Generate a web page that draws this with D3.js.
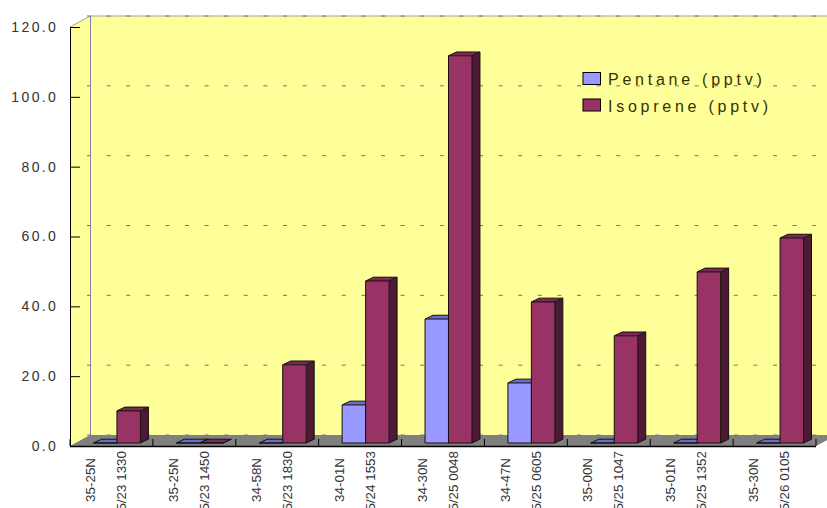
<!DOCTYPE html>
<html>
<head>
<meta charset="utf-8">
<script src="https://d3js.org/d3.v7.min.js"></script>
<style>
    html, body { margin: 0; padding: 0; background: #fff; overflow: hidden; }
    text { font-family: "Liberation Sans", Arial, sans-serif; fill: #333; }
    .yLabels text { font-size: 14px; letter-spacing: 2.4px; }
    .xLabel { font-size: 13.4px; }
    .legendText { font-size: 16px; letter-spacing: 3.75px; fill: #333300; }
</style>
</head>
<body>
<div id="chart"></div>
<script>
var positions = ["35-25N", "35-25N", "34-58N", "34-01N", "34-30N", "34-47N", "35-00N", "35-01N", "35-30N"];
var times = ["5/23 1330", "5/23 1450", "5/23 1830", "5/24 1553", "5/25 0048", "5/25 0605", "5/25 1047", "5/25 1352", "5/26 0105"];
var seriesNames = ["Pentane (pptv)", "Isoprene (pptv)"];
var pentane = [0, 0, 0, 10.9, 35.5, 17.2, 0, 0, 0];
var isoprene = [9.2, 0, 22.4, 46.4, 110.9, 40.4, 30.7, 49, 58.7];
var yTicks = [0, 20, 40, 60, 80, 100, 120];

var width = 827;
var height = 508;

// wall depth, and how far the bars sit back from the front edge
var depthX = 20;
var depthY = 11;
var barShiftX = 5.5;
var barShiftY = 3;
var barDepthX = 8;
var barDepthY = 3.8;

var svg = d3
    .select("#chart")
    .append("svg")
    .attr("width", width)
    .attr("height", height)
    .style("display", "block");

var xScale = d3.scaleBand().domain(d3.range(positions.length)).range([70, 816]);
var barScale = d3
    .scaleBand()
    .domain(seriesNames)
    .range([0, xScale.bandwidth()])
    .paddingInner(0)
    .paddingOuter(0.766);
var yScale = d3.scaleLinear().domain([0, 120]).range([446, 27]);

var left = xScale.range()[0];
var right = xScale.range()[1];
var floorY = yScale(0);
var topY = yScale(120);

function poly(points) {
    return points.map(function(p) { return p.join(","); }).join(" ");
}

// side wall, back wall and floor
svg.append("polygon")
    .attr("points", poly([[left, topY], [left + depthX, topY - depthY], [left + depthX, floorY - depthY], [left, floorY]]))
    .attr("fill", "#ffff99");
svg.append("rect")
    .attr("x", left + depthX)
    .attr("y", topY - depthY)
    .attr("width", width - left - depthX)
    .attr("height", floorY - topY)
    .attr("fill", "#ffff99");
svg.append("polygon")
    .attr("points", poly([[left, floorY], [left + depthX, floorY - depthY], [width + 10, floorY - depthY], [right, floorY]]))
    .attr("fill", "#808080");

// wall outlines
svg.append("polyline")
    .attr("points", poly([[left, topY], [left + depthX, topY - depthY], [width, topY - depthY]]))
    .attr("fill", "none")
    .attr("stroke", "#a0a0a8")
    .attr("stroke-width", 1);
svg.append("line")
    .attr("x1", left + depthX + 0.5)
    .attr("x2", left + depthX + 0.5)
    .attr("y1", topY - depthY)
    .attr("y2", floorY - depthY)
    .attr("stroke", "#8080a0");

// dashed gridlines on the back wall
svg.append("g")
    .selectAll("line")
    .data(yTicks)
    .enter()
    .append("line")
    .attr("x1", left + depthX - 3)
    .attr("x2", width)
    .attr("y1", function(d) { return yScale(d) - depthY; })
    .attr("y2", function(d) { return yScale(d) - depthY; })
    .attr("stroke", "#707090")
    .attr("stroke-dasharray", "4 15.6");

// one group per sample, pentane first so isoprene overlaps its side
var groups = svg
    .selectAll("g.sample")
    .data(positions)
    .enter()
    .append("g")
    .attr("class", "sample")
    .attr("transform", function(d, i) {
        return "translate(" + (xScale(i) + barShiftX) + "," + (-barShiftY) + ")";
    });

var palette = [
    { front: "#9999ff", top: "#6b6bc8", side: "#4d4d80" },
    { front: "#993366", top: "#7a2952", side: "#4d1a33" }
];

function drawBar(g, value, s) {
    var x0 = barScale(seriesNames[s]);
    var x1 = x0 + barScale.bandwidth();
    var y0 = yScale(0);
    var y1 = yScale(value);
    var dx = barDepthX;
    var dy = barDepthY;
    var c = palette[s];
    g.append("polygon")
        .attr("points", poly([[x1, y0], [x1 + dx, y0 - dy], [x1 + dx, y1 - dy], [x1, y1]]))
        .attr("fill", c.side);
    g.append("polygon")
        .attr("points", poly([[x0, y1], [x0 + dx, y1 - dy], [x1 + dx, y1 - dy], [x1, y1]]))
        .attr("fill", c.top);
    g.append("rect")
        .attr("x", x0)
        .attr("y", y1)
        .attr("width", x1 - x0)
        .attr("height", y0 - y1)
        .attr("fill", c.front);
    g.append("path")
        .attr("d", "M" + x0 + "," + y0 + "V" + y1 + "L" + (x0 + dx) + "," + (y1 - dy) + "H" + (x1 + dx) + "V" + (y0 - dy) + "L" + x1 + "," + y0 + "Z" + "M" + x1 + "," + y0 + "V" + y1 + "H" + x0 + "M" + x1 + "," + y1 + "L" + (x1 + dx) + "," + (y1 - dy))
        .attr("fill", "none")
        .attr("stroke", "#111")
        .attr("stroke-width", 1);
}

groups.each(function(d, i) {
    var g = d3.select(this);
    drawBar(g, pentane[i], 0);
    drawBar(g, isoprene[i], 1);
});

// value axis
var yAxis = d3
    .axisLeft(yScale)
    .tickValues(yTicks)
    .tickSizeInner(-10)
    .tickSizeOuter(0)
    .tickPadding(11.7)
    .tickFormat(function(d) { return d.toFixed(1); });

var yGroup = svg
    .append("g")
    .attr("class", "yLabels")
    .attr("transform", "translate(" + left + ",0)")
    .call(yAxis);
yGroup.selectAll("path, line").attr("stroke", "#000");

// front edge and its ticks
svg.append("line")
    .attr("x1", left)
    .attr("x2", right)
    .attr("y1", floorY + 0.5)
    .attr("y2", floorY + 0.5)
    .attr("stroke", "#000")
    .attr("stroke-width", 1.5);
svg.append("g")
    .selectAll("line")
    .data(d3.range(positions.length + 1))
    .enter()
    .append("line")
    .attr("x1", function(d) { return left + d * xScale.step(); })
    .attr("x2", function(d) { return left + d * xScale.step(); })
    .attr("y1", floorY - 7)
    .attr("y2", floorY)
    .attr("stroke", "#000");

// two rotated lines under each sample
var labels = svg
    .selectAll("g.xLabels")
    .data(positions)
    .enter()
    .append("g")
    .attr("class", "xLabels")
    .attr("transform", function(d, i) {
        return "translate(" + (xScale(i) + xScale.bandwidth() / 2) + ",0)";
    });

labels
    .append("text")
    .attr("class", "xLabel")
    .attr("text-anchor", "end")
    .attr("transform", "translate(-21,458)rotate(-90)")
    .attr("dy", "0.35em")
    .text(function(d) { return d; });
labels
    .append("text")
    .attr("class", "xLabel")
    .attr("text-anchor", "end")
    .attr("transform", "translate(10,451)rotate(-90)")
    .attr("dy", "0.35em")
    .text(function(d, i) { return times[i]; });

// legend
var legend = svg
    .selectAll("g.legend")
    .data(seriesNames)
    .enter()
    .append("g")
    .attr("class", "legend")
    .attr("transform", function(d, i) { return "translate(583," + (72.5 + i * 26.5) + ")"; });
legend
    .append("rect")
    .attr("width", 17.5)
    .attr("height", 12)
    .attr("fill", function(d, i) { return palette[i].front; })
    .attr("stroke", "#000");
legend
    .append("text")
    .attr("class", "legendText")
    .attr("x", 25)
    .attr("y", 12.5)
    .text(function(d) { return d; });
</script>
</body>
</html>
